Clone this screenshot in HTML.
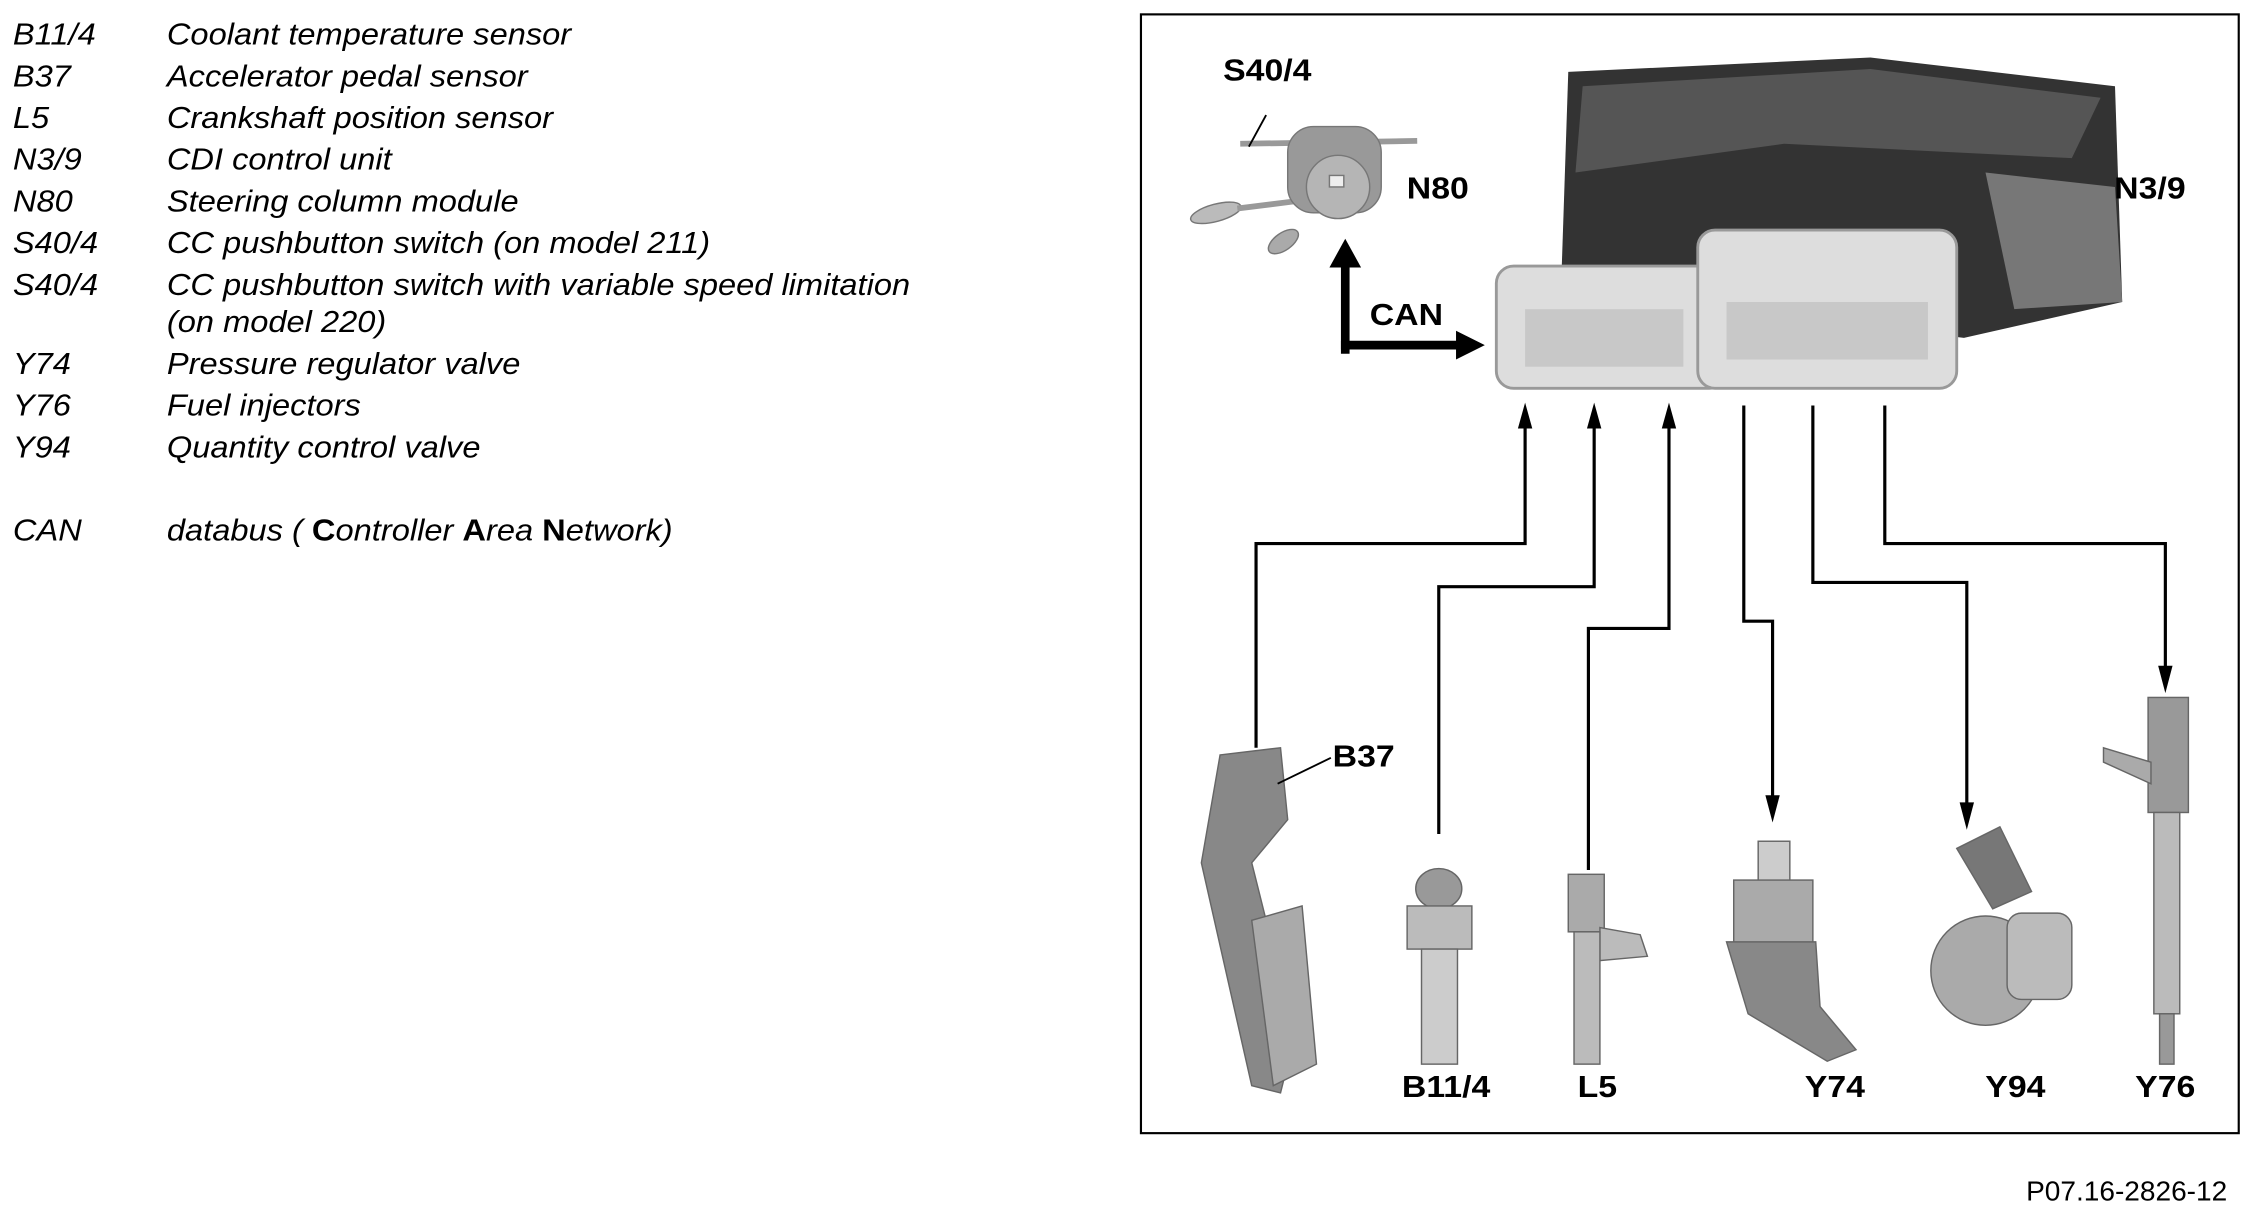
<!DOCTYPE html>
<html><head><meta charset="utf-8"><style>
html,body{margin:0;padding:0;background:#fff;}
svg{display:block;}
.lg{font-family:"Liberation Sans",sans-serif;font-style:italic;font-size:21px;fill:#000;}
.lb{font-family:"Liberation Sans",sans-serif;font-weight:bold;font-size:21px;fill:#000;}
</style></head><body>
<svg width="2256" height="1218" viewBox="0 0 1568 847" preserveAspectRatio="none" xmlns="http://www.w3.org/2000/svg">
<!-- legend -->
<g class="lg" transform="scale(1.08 1)">
<text x="8.3" y="31">B11/4</text><text x="107.4" y="31">Coolant temperature sensor</text>
<text x="8.3" y="60">B37</text><text x="107.4" y="60">Accelerator pedal sensor</text>
<text x="8.3" y="89">L5</text><text x="107.4" y="89">Crankshaft position sensor</text>
<text x="8.3" y="118">N3/9</text><text x="107.4" y="118">CDI control unit</text>
<text x="8.3" y="147">N80</text><text x="107.4" y="147">Steering column module</text>
<text x="8.3" y="176">S40/4</text><text x="107.4" y="176">CC pushbutton switch (on model 211)</text>
<text x="8.3" y="205">S40/4</text><text x="107.4" y="205">CC pushbutton switch with variable speed limitation</text>
<text x="107.4" y="231">(on model 220)</text>
<text x="8.3" y="260">Y74</text><text x="107.4" y="260">Pressure regulator valve</text>
<text x="8.3" y="289">Y76</text><text x="107.4" y="289">Fuel injectors</text>
<text x="8.3" y="318">Y94</text><text x="107.4" y="318">Quantity control valve</text>
<text x="8.3" y="376">CAN</text><text x="107.4" y="376">databus ( <tspan font-style="normal" font-weight="bold">C</tspan>ontroller  <tspan font-style="normal" font-weight="bold">A</tspan>rea  <tspan font-style="normal" font-weight="bold">N</tspan>etwork)</text>
</g>
<text x="1548" y="835" text-anchor="end" font-family="Liberation Sans,sans-serif" font-size="19.5">P07.16-2826-12</text>
<!-- frame -->
<rect x="793" y="10" width="763" height="778" fill="none" stroke="#000" stroke-width="1.5"/>
<!-- N80 module -->
<g fill="#aaa" stroke="#777" stroke-width="1">
<line x1="862" y1="100" x2="985" y2="98" stroke="#999" stroke-width="4"/>
<ellipse cx="845" cy="148" rx="18" ry="6" fill="#bbb" transform="rotate(-15 845 148)"/>
<line x1="860" y1="145" x2="900" y2="140" stroke="#999" stroke-width="4"/>
<ellipse cx="892" cy="168" rx="12" ry="6" transform="rotate(-35 892 168)"/>
<rect x="895" y="88" width="65" height="60" rx="18" fill="#999"/>
<circle cx="930" cy="130" r="22" fill="#b5b5b5"/>
<rect x="924" y="122" width="10" height="8" fill="#eee"/>
</g>
<line x1="868" y1="102" x2="880" y2="80" stroke="#000" stroke-width="1.3"/>
<!-- ECU -->
<g>
<path d="M1090 50 L1300 40 L1470 60 L1475 210 L1365 235 L1085 200 Z" fill="#333"/>
<path d="M1100 60 L1300 48 L1460 68 L1440 110 L1240 100 L1095 120 Z" fill="#555"/>
<path d="M1380 120 L1470 130 L1475 210 L1400 215 Z" fill="#777"/>
<rect x="1040" y="185" width="160" height="85" rx="12" fill="#ddd" stroke="#999" stroke-width="2"/>
<rect x="1180" y="160" width="180" height="110" rx="12" fill="#ddd" stroke="#999" stroke-width="2"/>
<rect x="1060" y="215" width="110" height="40" fill="#c8c8c8"/>
<rect x="1200" y="210" width="140" height="40" fill="#c8c8c8"/>
</g>
<!-- CAN arrows -->
<polyline points="935,246 935,182" fill="none" stroke="#000" stroke-width="6"/>
<polygon points="924,186 935,166 946,186" fill="#000"/>
<polyline points="932,240 1016,240" fill="none" stroke="#000" stroke-width="6"/>
<polygon points="1012,230 1032,240 1012,250" fill="#000"/>
<!-- signal lines -->
<g fill="none" stroke="#000" stroke-width="2.2">
<polyline points="873,520 873,378 1060,378 1060,295"/>
<polyline points="1000,580 1000,408 1108,408 1108,295"/>
<polyline points="1104,605 1104,437 1160,437 1160,295"/>
<polyline points="1212,282 1212,432 1232,432 1232,555"/>
<polyline points="1260,282 1260,405 1367,405 1367,560"/>
<polyline points="1310,282 1310,378 1505,378 1505,465"/>
</g>
<g fill="#000">
<polygon points="1055,298 1060,280 1065,298"/>
<polygon points="1103,298 1108,280 1113,298"/>
<polygon points="1155,298 1160,280 1165,298"/>
<polygon points="1227,553 1232,572 1237,553"/>
<polygon points="1362,558 1367,577 1372,558"/>
<polygon points="1500,463 1505,482 1510,463"/>
</g>
<!-- components -->
<g stroke="#666" stroke-width="1">
<path d="M848 525 L890 520 L895 570 L870 600 L900 720 L890 760 L870 755 L835 600 Z" fill="#888"/>
<path d="M870 640 L905 630 L915 740 L885 755 Z" fill="#aaa"/>
<ellipse cx="1000" cy="618" rx="16" ry="14" fill="#999"/>
<rect x="978" y="630" width="45" height="30" fill="#bbb"/>
<rect x="988" y="660" width="25" height="80" fill="#ccc"/>
<rect x="1090" y="608" width="25" height="40" fill="#aaa"/>
<path d="M1112 645 L1140 650 L1145 665 L1112 668 Z" fill="#bbb"/>
<rect x="1094" y="648" width="18" height="92" fill="#bbb"/>
<rect x="1222" y="585" width="22" height="30" fill="#ccc"/>
<rect x="1205" y="612" width="55" height="45" fill="#aaa"/>
<path d="M1200 655 L1262 655 L1265 700 L1290 730 L1270 738 L1215 705 Z" fill="#888"/>
<path d="M1360 590 L1390 575 L1412 620 L1385 632 Z" fill="#777"/>
<circle cx="1380" cy="675" r="38" fill="#aaa"/>
<rect x="1395" y="635" width="45" height="60" rx="10" fill="#bbb"/>
<rect x="1493" y="485" width="28" height="80" fill="#999"/>
<path d="M1462 520 L1495 530 L1495 545 L1462 530 Z" fill="#aaa"/>
<rect x="1497" y="565" width="18" height="140" fill="#bbb"/>
<rect x="1501" y="705" width="10" height="35" fill="#999"/>
</g>
<line x1="888" y1="545" x2="925" y2="527" stroke="#000" stroke-width="1.3"/>
<!-- labels -->
<g class="lb" transform="scale(1.12 1)">
<text x="759" y="56">S40/4</text>
<text x="873" y="138">N80</text>
<text x="1312" y="138">N3/9</text>
<text x="850" y="226">CAN</text>
<text x="827" y="533">B37</text>
<text x="870" y="763">B11/4</text>
<text x="979" y="763">L5</text>
<text x="1120" y="763">Y74</text>
<text x="1232" y="763">Y94</text>
<text x="1325" y="763">Y76</text>
</g>
</svg>
</body></html>
